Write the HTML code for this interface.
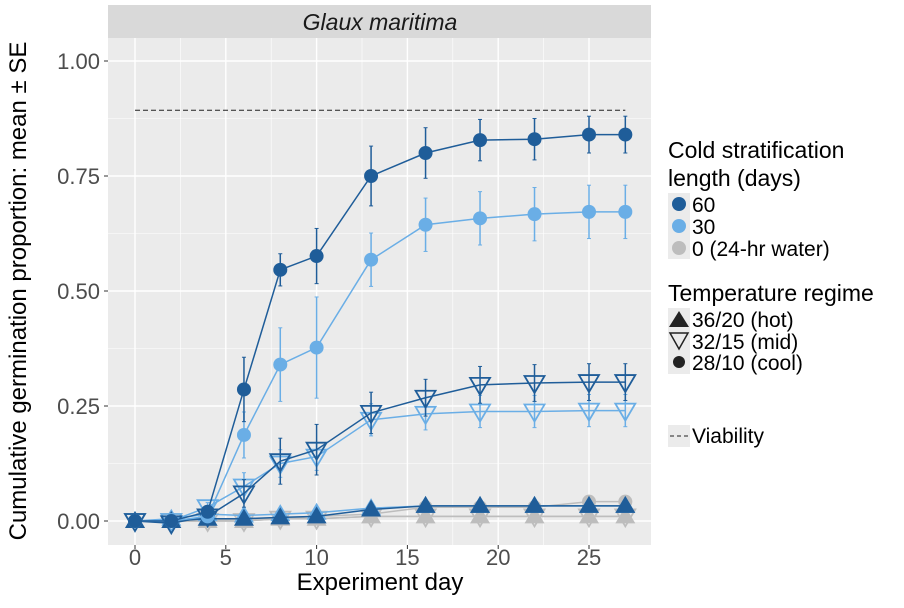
<!DOCTYPE html>
<html><head><meta charset="utf-8"><style>
body{margin:0;background:#fff;width:904px;height:603px;overflow:hidden;font-family:"Liberation Sans",sans-serif}
text{font-family:"Liberation Sans",sans-serif}
</style></head><body>
<svg id="chart" width="904" height="603" xmlns="http://www.w3.org/2000/svg">
<rect x="108" y="5" width="543" height="33" fill="#d9d9d9"/>
<text x="380" y="30" font-size="23" font-style="italic" text-anchor="middle" fill="#1a1a1a">Glaux maritima</text>
<rect x="108" y="38" width="543" height="507" fill="#ebebeb"/>
<g id="grid"></g><g id="marks"></g><g id="axes"></g>
<text x="380" y="590" font-size="24" text-anchor="middle" fill="#000">Experiment day</text>
<text transform="translate(26,291) rotate(-90)" font-size="24" text-anchor="middle" fill="#000">Cumulative germination proportion: mean ± SE</text>
<g font-size="23" fill="#000">
<text x="668" y="158">Cold stratification</text><text x="668" y="186">length (days)</text>
<rect x="668" y="193" width="22" height="66" fill="#ebebeb"/>
<circle cx="679" cy="204" r="7" fill="#1f5d99"/><text x="692" y="212" font-size="21">60</text>
<circle cx="679" cy="226" r="7" fill="#6aaee6"/><text x="692" y="234" font-size="21">30</text>
<circle cx="679" cy="248" r="7" fill="#bdbdbd"/><text x="692" y="256" font-size="21">0 (24-hr water)</text>
<text x="668" y="301">Temperature regime</text>
<rect x="668" y="308" width="22" height="66" fill="#ebebeb"/>
<polygon points="669,327 689,327 679,311" fill="#222"/><text x="692" y="327" font-size="21">36/20 (hot)</text>
<polygon points="670,333 688,333 679,349" fill="none" stroke="#222" stroke-width="1.5"/><text x="692" y="349" font-size="21">32/15 (mid)</text>
<circle cx="679" cy="362" r="6" fill="#222"/><text x="692" y="370" font-size="21">28/10 (cool)</text>
<rect x="668" y="425" width="22" height="22" fill="#ebebeb"/>
<line x1="670" y1="436" x2="688" y2="436" stroke="#222" stroke-dasharray="4,3"/><text x="692" y="443" font-size="21">Viability</text>
</g>
</svg>
<script>
const days=[0,2,4,6,8,10,13,16,19,22,25,27];
const c60cool=[0,0,0.02,0.286,0.546,0.576,0.75,0.80,0.828,0.83,0.84,0.84];
const e60cool=[0,0,0.01,0.07,0.035,0.06,0.065,0.055,0.045,0.045,0.04,0.04];
const c30cool=[0,0,0.01,0.187,0.34,0.377,0.568,0.644,0.658,0.667,0.672,0.672];
const e30cool=[0,0,0.01,0.05,0.08,0.11,0.058,0.058,0.058,0.058,0.058,0.058];
const c60mid=[0,-0.005,0.01,0.06,0.13,0.155,0.235,0.268,0.296,0.3,0.302,0.302];
const e60mid=[0,0.005,0.01,0.03,0.05,0.055,0.045,0.04,0.04,0.04,0.04,0.04];
const c30mid=[0,0,0.03,0.075,0.125,0.14,0.22,0.233,0.238,0.238,0.24,0.24];
const e30mid=[0,0,0.01,0.03,0.03,0.03,0.035,0.035,0.035,0.035,0.035,0.035];
const c60hot=[0,0,0.005,0.005,0.008,0.01,0.025,0.033,0.033,0.033,0.033,0.033];
const c30hot=[0,0.005,0.015,0.012,0.015,0.018,0.028,0.033,0.033,0.033,0.033,0.033];
const c0cool=[0,0,0,0.005,0.005,0.01,0.015,0.03,0.03,0.03,0.042,0.042];
const c0mid=[0,0,0,0,0.005,0.005,0.01,0.01,0.01,0.01,0.01,0.01];
const viability=0.893;
const xTicks=[0,5,10,15,20,25];
const yTicks=[0,0.25,0.5,0.75,1.0];
const yLabels=["0.00","0.25","0.50","0.75","1.00"];
const X=d=>135+d*18.16, Y=v=>521-v*460;
const NS="http://www.w3.org/2000/svg";
function mk(p,tag,a){const e=document.createElementNS(NS,tag);for(const k in a)e.setAttribute(k,a[k]);p.appendChild(e);return e;}
const grid=document.getElementById('grid'),marks=document.getElementById('marks'),axes=document.getElementById('axes');
for(let i=0;i<xTicks.length;i++){const x=X(xTicks[i]);
 const g=mk(grid,'line',{x1:x,x2:x,y1:38,y2:545,stroke:'#fff','stroke-width':1.4});
 
 
 if(i<xTicks.length-1){const m=mk(grid,'line',{x1:X(xTicks[i]+2.5),x2:X(xTicks[i]+2.5),y1:38,y2:545,stroke:'#fff','stroke-width':0.6});
 
 }
 const t=mk(axes,'text',{x:x,y:565,'font-size':22,'text-anchor':'middle',fill:'#4d4d4d'});t.textContent=xTicks[i];
 
 
 mk(axes,'line',{x1:x,x2:x,y1:545,y2:549,stroke:'#333'});}
const mx=mk(grid,'line',{x1:X(-2.5),x2:X(-2.5),y1:38,y2:545,stroke:'#fff','stroke-width':0.6});


for(let i=0;i<yTicks.length;i++){const y=Y(yTicks[i]);
 const g=mk(grid,'line',{x1:108,x2:651,y1:y,y2:y,stroke:'#fff','stroke-width':1.4});
 
 
 if(i<yTicks.length-1){const m=mk(grid,'line',{x1:108,x2:651,y1:Y(yTicks[i]+0.125),y2:Y(yTicks[i]+0.125),stroke:'#fff','stroke-width':0.6});
 
 }
 const t=mk(axes,'text',{x:100,y:y+8,'font-size':22,'text-anchor':'end',fill:'#4d4d4d'});t.textContent=yLabels[i];
 
 
 mk(axes,'line',{x1:104,x2:108,y1:y,y2:y,stroke:'#333'});}
const vl=mk(marks,'line',{x1:X(0),x2:X(27),y1:Y(viability),y2:Y(viability),stroke:'#222','stroke-dasharray':'5,3','stroke-width':1});


function series(vals,errs,col,shape,name){
 const g=mk(marks,'g',{});
 
 
 mk(g,'polyline',{points:vals.map((v,i)=>X(days[i])+','+Y(v)).join(' '),fill:'none',stroke:col,'stroke-width':1.5});
 vals.forEach((v,i)=>{const x=X(days[i]),y=Y(v);
  if(errs&&errs[i]>0){mk(g,'line',{x1:x,x2:x,y1:Y(v-errs[i]),y2:Y(v+errs[i]),stroke:col,'stroke-width':1.5});
   mk(g,'line',{x1:x-2,x2:x+2,y1:Y(v-errs[i]),y2:Y(v-errs[i]),stroke:col});
   mk(g,'line',{x1:x-2,x2:x+2,y1:Y(v+errs[i]),y2:Y(v+errs[i]),stroke:col});}
  let m;
  if(shape==='circle')m=mk(g,'circle',{cx:x,cy:y,r:7,fill:col});
  else if(shape==='up')m=mk(g,'polygon',{points:`${x-10},${y+7} ${x+10},${y+7} ${x},${y-10}`,fill:col});
  else m=mk(g,'polygon',{points:`${x-10},${y-7} ${x+10},${y-7} ${x},${y+10}`,fill:'none',stroke:col,'stroke-width':1.8});
  
  
 });}
const D='#1f5d99',L='#6aaee6',G='#bdbdbd';
series(c0mid,null,G,'down','series-0-mid');
series(c0mid,null,G,'up','series-0-hot');
series(c0cool,null,G,'circle','series-0-cool');
series(c30hot,null,L,'up','series-30-hot');
series(c60hot,null,D,'up','series-60-hot');
series(c30mid,e30mid,L,'down','series-30-mid');
series(c60mid,e60mid,D,'down','series-60-mid');
series(c30cool,e30cool,L,'circle','series-30-cool');
series(c60cool,e60cool,D,'circle','series-60-cool');
</script>
</body></html>
